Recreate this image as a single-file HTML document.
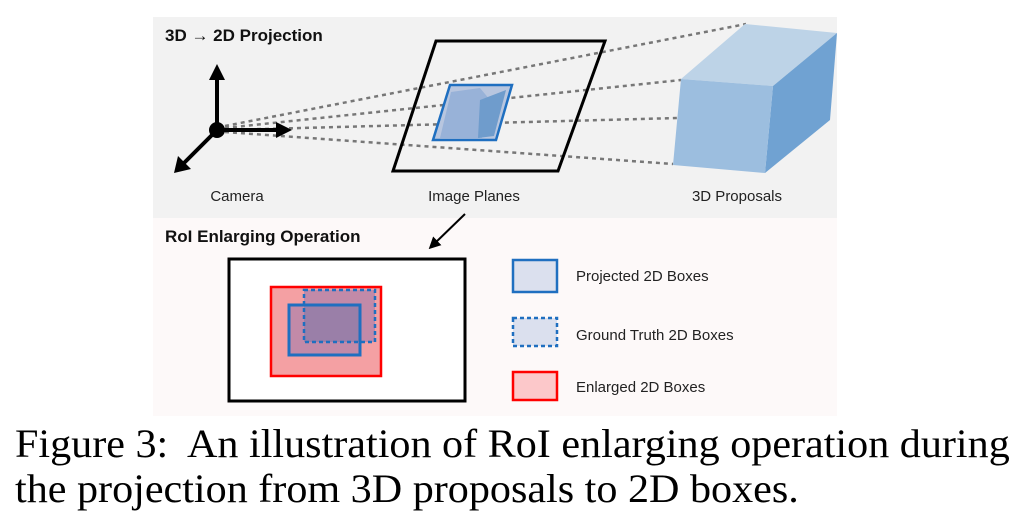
<!DOCTYPE html>
<html><head><style>
body{margin:0;background:#fff;width:1024px;height:518px;overflow:hidden;position:relative}
svg{position:absolute;left:0;top:0}
.cap{position:absolute;left:15px;font-family:"Liberation Serif",serif;font-size:40px;line-height:40px;color:#000;white-space:nowrap;transform:scaleX(1.053);transform-origin:0 0}
</style></head><body>
<svg width="1024" height="518" viewBox="0 0 1024 518" font-family="Liberation Sans, sans-serif">
<defs>
<marker id="ah" markerWidth="6" markerHeight="6" refX="3" refY="3" orient="auto"><path d="M0,0 L6,3 L0,6 z" fill="#000"/></marker>
</defs>
<rect x="153" y="17" width="684" height="201" fill="#f2f2f2"/>
<rect x="153" y="218" width="684" height="198" fill="#fdf9f9"/>
<text x="165" y="41" font-size="17" font-weight="bold" fill="#111">3D → 2D Projection</text>
<g stroke="#777" stroke-width="2.5" stroke-dasharray="4,4" fill="none">
<line x1="225" y1="126" x2="746" y2="24"/>
<line x1="225" y1="128" x2="681" y2="80"/>
<line x1="225" y1="130" x2="678" y2="118"/>
<line x1="225" y1="132" x2="673" y2="164"/>
</g>
<g stroke="#000" stroke-width="4" fill="none">
<line x1="217" y1="130" x2="217" y2="76"/>
<line x1="217" y1="130" x2="280" y2="130"/>
<line x1="217" y1="130" x2="182" y2="165"/>
</g>
<path d="M217,64 L209,80 L225,80 z" fill="#000"/>
<path d="M292,130 L276,122 L276,138 z" fill="#000"/>
<path d="M174,173 L178,156 L191,169 z" fill="#000"/>
<circle cx="217" cy="130" r="8" fill="#000"/>
<polygon points="436,41 605,41 558,171 393,171" fill="none" stroke="#000" stroke-width="3"/>
<polygon points="450,85 512,85 496,140 433,140" fill="#b8c6df" stroke="#1f6fc0" stroke-width="2.5"/>
<polygon points="451,92 480,88 490,100 482,138 440,138" fill="#98b2d8"/>
<polygon points="480,100 506,90 494,136 478,138" fill="#6f9ccc"/>
<polygon points="681,79 745,24 837,33 773,86" fill="#bdd3e7"/>
<polygon points="773,86 837,33 830,120 765,173" fill="#70a2d2"/>
<polygon points="681,79 773,86 765,173 673,165" fill="#9cbedf"/>
<g font-size="15" fill="#222" text-anchor="middle">
<text x="237" y="201">Camera</text>
<text x="474" y="201">Image Planes</text>
<text x="737" y="201">3D Proposals</text>
</g>
<text x="165" y="242" font-size="17" font-weight="bold" fill="#111">RoI Enlarging Operation</text>
<line x1="465" y1="214" x2="433" y2="245" stroke="#000" stroke-width="2" marker-end="url(#ah)"/>
<rect x="229" y="259" width="236" height="142" fill="#fff" stroke="#000" stroke-width="3"/>
<rect x="271" y="287" width="110" height="89" fill="#f4a0a3" stroke="#f00" stroke-width="2.5"/>
<rect x="304" y="290" width="71" height="52" fill="#c28aa8"/>
<rect x="289" y="305" width="71" height="50" fill="#c28aa8"/>
<rect x="304" y="305" width="56" height="37" fill="#9a7fa8"/>
<rect x="304" y="290" width="71" height="52" fill="none" stroke="#1f6fc0" stroke-width="2.5" stroke-dasharray="4,3"/>
<rect x="289" y="305" width="71" height="50" fill="none" stroke="#1f6fc0" stroke-width="3"/>
<rect x="513" y="260" width="44" height="32" fill="#dbe0ee" stroke="#1f6fc0" stroke-width="2.5"/>
<rect x="513" y="318" width="44" height="28" fill="#dbe0ee" stroke="#1f6fc0" stroke-width="2.5" stroke-dasharray="4,3"/>
<rect x="513" y="372" width="44" height="28" fill="#fcc8ca" stroke="#f00" stroke-width="2.5"/>
<g font-size="15" fill="#222">
<text x="576" y="281">Projected 2D Boxes</text>
<text x="576" y="340">Ground Truth 2D Boxes</text>
<text x="576" y="392">Enlarged 2D Boxes</text>
</g>
</svg>
<div class="cap" style="top:424px">Figure 3:&nbsp; An illustration of RoI enlarging operation during</div>
<div class="cap" style="top:469px">the projection from 3D proposals to 2D boxes.</div>
</body></html>
